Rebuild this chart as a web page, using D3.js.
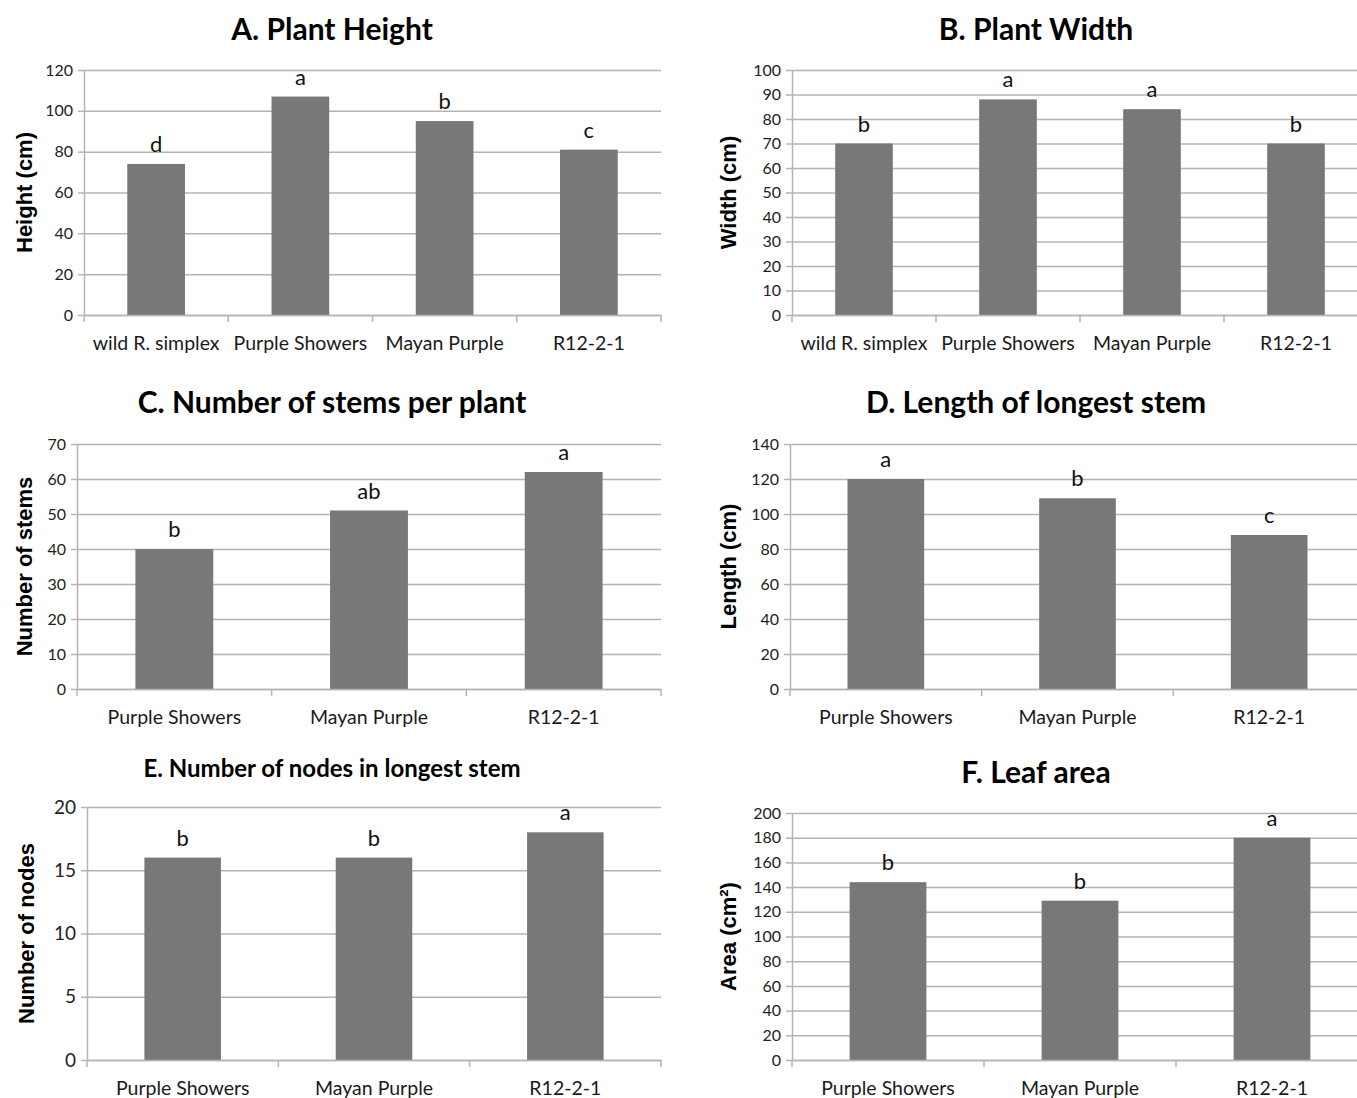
<!DOCTYPE html>
<html><head><meta charset="utf-8">
<script src="https://cdn.jsdelivr.net/npm/d3@7"></script>
<style>
html,body{margin:0;padding:0;background:#fff;}
svg{display:block;}
text{font-family:Lato,"Open Sans",sans-serif;}
</style></head>
<body>
<svg id="chart" width="1357" height="1098"></svg>
<script>
// ---- data ----
const categories4 = ["wild R. simplex", "Purple Showers", "Mayan Purple", "R12-2-1"];
const categories3 = ["Purple Showers", "Mayan Purple", "R12-2-1"];

const heightValues = [74, 107, 95, 81];
const heightLetters = ["d", "a", "b", "c"];
const heightTicks = [0, 20, 40, 60, 80, 100, 120];

const widthValues = [70, 88, 84, 70];
const widthLetters = ["b", "a", "a", "b"];
const widthTicks = [0, 10, 20, 30, 40, 50, 60, 70, 80, 90, 100];

const stemsValues = [40, 51, 62];
const stemsLetters = ["b", "ab", "a"];
const stemsTicks = [0, 10, 20, 30, 40, 50, 60, 70];

const lengthValues = [120, 109, 88];
const lengthLetters = ["a", "b", "c"];
const lengthTicks = [0, 20, 40, 60, 80, 100, 120, 140];

const nodesValues = [16, 16, 18];
const nodesLetters = ["b", "b", "a"];
const nodesTicks = [0, 5, 10, 15, 20];

const areaValues = [144, 129, 180];
const areaLetters = ["b", "b", "a"];
const areaTicks = [0, 20, 40, 60, 80, 100, 120, 140, 160, 180, 200];

const titles = ["A. Plant Height", "B. Plant Width", "C. Number of stems per plant",
  "D. Length of longest stem", "E. Number of nodes in longest stem", "F. Leaf area"];
const yLabels = ["Height (cm)", "Width (cm)", "Number of stems", "Length (cm)", "Number of nodes", "Area (cm²)"];

// ---- layout ----
const panels = [
  {cats: categories4, vals: heightValues, letters: heightLetters, ticks: heightTicks,
   x0: 84, x1: 661, y0: 315, y1: 70, tx: 332, ty: 40, tsize: 30, lx: 24, tick: 16},
  {cats: categories4, vals: widthValues, letters: widthLetters, ticks: widthTicks,
   x0: 792, x1: 1368, y0: 315, y1: 70, tx: 1036, ty: 40, tsize: 30, lx: 728, tick: 16},
  {cats: categories3, vals: stemsValues, letters: stemsLetters, ticks: stemsTicks,
   x0: 77, x1: 661, y0: 689, y1: 444, tx: 332, ty: 413, tsize: 30, lx: 24, tick: 16},
  {cats: categories3, vals: lengthValues, letters: lengthLetters, ticks: lengthTicks,
   x0: 790, x1: 1365, y0: 689, y1: 444, tx: 1036, ty: 413, tsize: 30, lx: 728, tick: 16},
  {cats: categories3, vals: nodesValues, letters: nodesLetters, ticks: nodesTicks,
   x0: 87, x1: 661, y0: 1060, y1: 807, tx: 332, ty: 777, tsize: 24, lx: 26, tick: 19},
  {cats: categories3, vals: areaValues, letters: areaLetters, ticks: areaTicks,
   x0: 792, x1: 1368, y0: 1060, y1: 813, tx: 1036, ty: 783, tsize: 30, lx: 728, tick: 16}
];

const svg = d3.select("#chart");
const gridColor = "#b4b4b4";
const barColor = "#787878";

panels.forEach((p, i) => {
  const g = svg.append("g");
  const x = d3.scaleBand().domain(p.cats).range([p.x0, p.x1]).paddingInner(0.6).paddingOuter(0.3);
  const y = d3.scaleLinear().domain([0, d3.max(p.ticks)]).range([p.y0, p.y1]);

  // gridlines
  const grid = g.append("g").attr("transform", `translate(${p.x0},0)`)
    .call(d3.axisLeft(y).tickValues(p.ticks).tickSize(-(p.x1 - p.x0)).tickFormat(""));
  grid.select(".domain").remove();
  grid.selectAll("line").attr("stroke", gridColor).attr("stroke-width", 1.5);

  // y axis
  const ya = g.append("g").attr("transform", `translate(${p.x0},0)`)
    .call(d3.axisLeft(y).tickValues(p.ticks).tickSize(6).tickSizeOuter(0).tickPadding(5));
  ya.select(".domain").attr("stroke", gridColor).attr("stroke-width", 1.5);
  ya.selectAll("line").attr("stroke", gridColor).attr("stroke-width", 1.5);
  ya.selectAll("text").attr("font-size", p.tick).attr("fill", "#222")
    .style("font-family", "Lato, 'Open Sans', sans-serif");

  // bars
  g.selectAll("rect.bar").data(p.vals).enter().append("rect")
    .attr("x", (d, k) => x(p.cats[k]))
    .attr("width", x.bandwidth())
    .attr("y", d => y(d))
    .attr("height", d => y(0) - y(d))
    .attr("fill", barColor);

  // x axis
  const xa = g.append("g").attr("transform", `translate(0,${p.y0})`)
    .call(d3.axisBottom(x).tickSize(0).tickPadding(21));
  xa.select(".domain").attr("stroke", gridColor).attr("stroke-width", 1.5);
  xa.selectAll("text").attr("font-size", 19.5).attr("fill", "#1a1a1a")
    .style("font-family", "Lato, 'Open Sans', sans-serif");
  // category boundary ticks
  const bounds = d3.range(p.cats.length + 1).map(k => x.range()[0] + k * x.step());
  xa.selectAll("line.bound").data(bounds).enter().append("line")
    .attr("x1", d => d).attr("x2", d => d).attr("y1", 0).attr("y2", 7)
    .attr("stroke", gridColor).attr("stroke-width", 1.5);

  // significance letters
  g.selectAll("text.letter").data(p.vals).enter().append("text")
    .attr("x", (d, k) => x(p.cats[k]) + x.bandwidth() / 2)
    .attr("y", d => y(d) - 12)
    .attr("text-anchor", "middle")
    .attr("font-size", 22).attr("fill", "#111")
    .text((d, k) => p.letters[k]);

  // title
  g.append("text").attr("x", p.tx).attr("y", p.ty).attr("text-anchor", "middle")
    .attr("font-size", p.tsize).attr("font-weight", "bold").attr("fill", "#000")
    .text(titles[i]);

  // y label
  g.append("text")
    .attr("transform", `translate(${p.lx},${(p.y0 + p.y1) / 2}) rotate(-90)`)
    .attr("text-anchor", "middle").attr("dominant-baseline", "central")
    .attr("font-size", 22).attr("font-weight", "bold").attr("fill", "#000")
    .style("font-family", "'Liberation Sans', Arial, sans-serif")
    .text(yLabels[i]);
});
</script>
</body></html>
